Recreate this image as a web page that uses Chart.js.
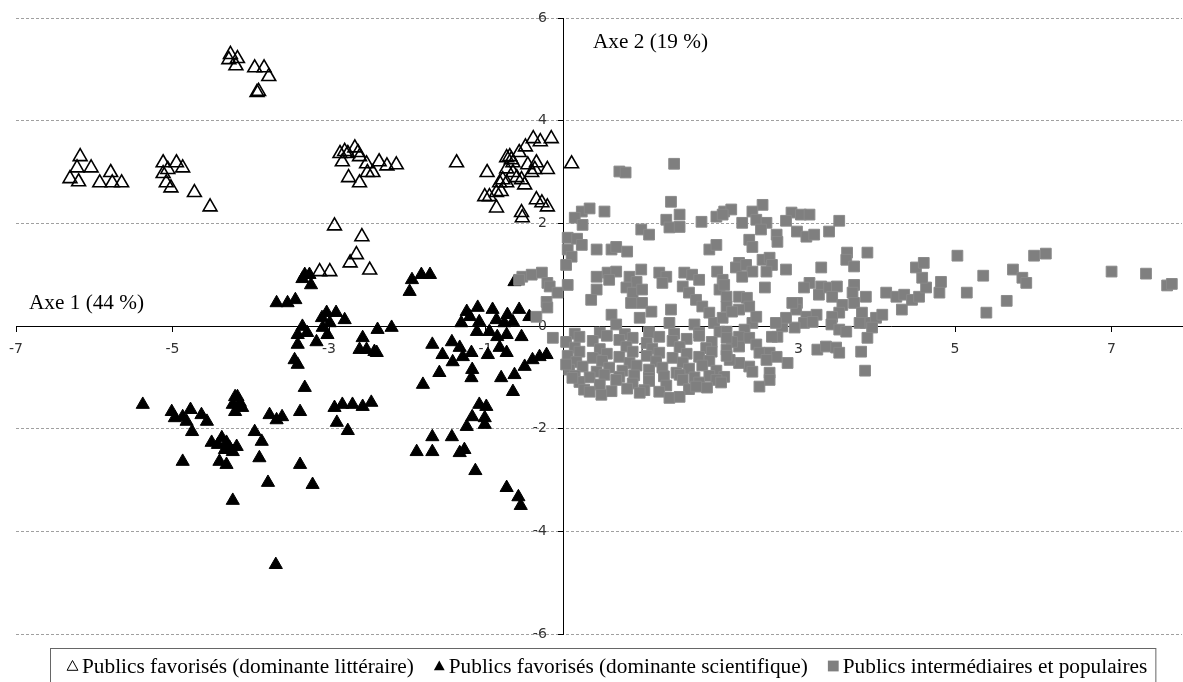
<!DOCTYPE html>
<html>
<head>
<meta charset="utf-8">
<script src="https://cdn.jsdelivr.net/npm/chart.js@4.4.0/dist/chart.umd.min.js"></script>
<style>
  html, body { margin: 0; padding: 0; background: #ffffff; overflow: hidden; }
  #wrap { width: 1183px; height: 682px; position: relative; }
</style>
</head>
<body>
<div id="wrap"><canvas id="c"></canvas></div>
<script>
// ---- data (axis units) ----
const xTicks = [-7, -5, -3, -1, 1, 3, 5, 7];
const yTicks = [-6, -4, -2, 0, 2, 4, 6];
const seriesNames = [
  'Publics favorisés (dominante littéraire)',
  'Publics favorisés (dominante scientifique)',
  'Publics intermédiaires et populaires'
];
const axisTitles = ['Axe 1 (44 %)', 'Axe 2 (19 %)'];

const litteraire = [
  [-4.26,5.29],[-4.17,5.21],[-4.19,5.07],[-4.28,5.19],[-3.95,5.03],[-3.83,5.03],[-3.77,4.86],[-3.92,4.55],[-3.90,4.57],
  [-6.18,3.30],[-6.22,3.08],[-6.04,3.08],[-6.31,2.87],[-6.20,2.81],[-5.93,2.79],[-5.79,2.99],[-5.77,2.79],[-5.65,2.79],
  [-5.12,3.18],[-4.95,3.18],[-4.87,3.08],[-5.06,3.05],[-5.12,2.97],[-5.08,2.79],[-5.02,2.69],[-4.72,2.60],[-4.52,2.32],
  [-2.86,3.36],[-2.80,3.40],[-2.76,3.36],[-2.67,3.47],[-2.63,3.38],[-2.61,3.30],[-2.83,3.20],[-2.52,3.16],[-2.51,2.99],
  [-2.44,2.99],[-2.36,3.20],[-2.26,3.12],[-2.14,3.14],[-2.75,2.89],[-2.61,2.79],
  [-2.93,1.95],[-2.58,1.74],[-2.65,1.39],[-2.73,1.23],[-2.48,1.09],[-3.12,1.06],[-2.99,1.06],
  [-1.37,3.18],[-0.98,2.99],[-0.73,3.28],[-0.69,3.30],[-0.67,3.24],[-0.65,3.18],[-0.57,3.38],[-0.49,3.49],[-0.39,3.65],
  [-0.30,3.59],[-0.16,3.65],[-0.46,3.14],[-0.35,3.18],[-0.37,3.05],[-0.21,3.05],[-0.73,3.06],[-0.65,2.99],[-0.60,2.89],
  [-0.54,2.85],[-0.50,2.75],[-0.41,2.99],[-0.78,2.85],[-0.82,2.79],[-0.73,2.79],[-1.01,2.52],[-0.95,2.52],[-0.86,2.60],
  [-0.80,2.62],[-0.86,2.30],[-0.35,2.46],[-0.28,2.40],[-0.21,2.32],[-0.54,2.21],[-0.53,2.11],[0.10,3.16]
];

const scientifique = [
  [-5.38,-1.53],[-5.01,-1.67],[-4.97,-1.79],[-4.87,-1.77],[-4.77,-1.63],[-4.82,-1.86],[-4.63,-1.73],[-4.56,-1.86],[-4.75,-2.06],
  [-4.20,-1.38],[-4.17,-1.38],[-4.23,-1.53],[-4.14,-1.49],[-4.20,-1.67],[-4.11,-1.59],[-3.76,-1.73],[-3.67,-1.83],[-3.60,-1.77],
  [-3.95,-2.06],[-3.86,-2.25],[-4.50,-2.27],[-4.37,-2.18],[-4.31,-2.27],[-4.27,-2.37],[-4.18,-2.35],[-4.42,-2.31],[-4.33,-2.41],
  [-4.23,-2.45],[-4.40,-2.64],[-4.31,-2.70],[-4.87,-2.64],[-3.89,-2.57],[-3.37,-2.70],[-3.78,-3.05],[-3.21,-3.09],[-4.23,-3.40],
  [-3.68,-4.65],[-3.37,-1.67],[-3.31,-1.20],[-2.93,-1.59],[-2.83,-1.53],[-2.70,-1.53],[-2.57,-1.57],[-2.46,-1.49],[-2.90,-1.88],
  [-2.76,-2.04],
  [-3.67,0.45],[-3.53,0.45],[-3.43,0.51],[-3.31,1.00],[-3.25,1.00],[-3.23,0.80],[-3.34,0.92],
  [-3.03,0.26],[-2.91,0.26],[-2.80,0.12],[-3.09,0.16],[-2.99,0.06],[-3.08,-0.03],[-3.02,-0.17],[-3.34,-0.01],[-3.40,-0.17],
  [-3.28,-0.13],[-3.40,-0.36],[-3.16,-0.31],[-2.38,-0.07],[-2.20,-0.03],[-2.57,-0.23],[-2.61,-0.46],[-2.52,-0.46],[-2.42,-0.50],
  [-2.39,-0.52],[-3.44,-0.66],[-3.40,-0.75],
  [-1.94,0.90],[-1.82,1.00],[-1.71,1.00],[-1.97,0.67],[-0.63,0.86],
  [-1.24,0.28],[-1.20,0.18],[-1.10,0.36],[-0.91,0.32],[-0.72,0.22],[-0.57,0.32],[-0.44,0.18],[-1.31,0.06],[-1.08,0.08],
  [-0.86,0.12],[-0.76,0.06],[-0.65,0.08],[-1.11,-0.11],[-0.95,-0.11],[-0.85,-0.21],[-0.73,-0.17],[-0.54,-0.21],
  [-1.68,-0.36],[-1.43,-0.31],[-1.33,-0.42],[-1.55,-0.56],[-1.29,-0.60],[-1.18,-0.52],[-0.97,-0.56],[-0.82,-0.42],[-0.73,-0.52],
  [-1.42,-0.70],[-1.59,-0.91],[-1.17,-0.85],[-1.18,-1.01],[-1.80,-1.14],[-0.80,-1.01],[-0.63,-0.95],[-0.50,-0.79],[-0.40,-0.66],
  [-0.31,-0.60],[-0.22,-0.56],[-0.65,-1.28],
  [-1.08,-1.53],[-0.99,-1.57],[-1.17,-1.77],[-1.01,-1.79],[-1.01,-1.92],[-1.24,-1.96],[-1.68,-2.16],[-1.43,-2.16],
  [-1.88,-2.45],[-1.68,-2.45],[-1.33,-2.47],[-1.27,-2.41],[-1.13,-2.82],[-0.73,-3.15],[-0.58,-3.33],[-0.55,-3.50]
];

const populaires = [
  [1.41,3.16],[0.71,3.01],[0.79,2.99],[1.37,2.42],[1.48,2.17],[1.31,2.07],[1.35,1.92],[1.48,1.93],[1.76,2.03],[1.95,2.13],
  [2.05,2.23],[0.52,2.23],[0.23,2.23],[0.33,2.29],[0.14,2.11],[0.24,1.97],[0.99,1.88],[1.09,1.78],[0.05,1.72],[0.17,1.70],
  [0.23,1.58],[0.05,1.49],[0.10,1.35],[0.03,1.19],[0.42,1.49],[0.61,1.49],[0.67,1.54],[0.81,1.45],[1.86,1.49],[1.95,1.58],
  [-0.53,0.96],[-0.41,1.00],[-0.28,1.04],[-0.21,0.84],[-0.18,0.77],[0.05,0.80],[-0.08,0.65],[-0.22,0.47],[-0.21,0.36],[-0.35,0.18],
  [0.42,0.96],[0.56,1.04],[0.67,1.06],[0.58,0.90],[0.42,0.71],[0.35,0.51],[0.84,0.96],[0.99,1.10],[0.93,0.86],[0.80,0.75],
  [0.88,0.65],[1.00,0.71],[0.86,0.45],[1.00,0.45],[1.12,0.28],[0.97,0.16],[0.61,0.22],[0.67,0.03],
  [1.22,1.04],[1.31,0.96],[1.26,0.84],[1.37,0.32],[1.35,0.06],[1.54,1.04],[1.64,1.00],[1.73,0.90],[1.52,0.77],[1.60,0.65],
  [1.69,0.51],[1.77,0.38],[1.86,0.26],[1.96,1.06],[2.03,0.90],[1.99,0.71],[2.08,0.57],[1.67,0.03],[1.92,0.06],[1.99,-0.11],
  [2.14,2.27],[2.03,2.17],[2.54,2.36],[2.41,2.23],[2.46,2.07],[2.59,2.01],[2.52,1.88],[2.28,2.01],[2.37,1.68],[2.41,1.54],
  [2.72,1.78],[2.73,1.64],[2.91,2.21],[3.03,2.17],[3.14,2.17],[2.84,2.05],[2.98,1.84],[3.10,1.74],[3.20,1.78],[3.39,1.84],[3.52,2.05],
  [2.24,1.23],[2.20,1.14],[2.33,1.19],[2.41,1.06],[2.54,1.29],[2.63,1.33],[2.66,1.19],[2.59,1.06],[2.28,0.96],[2.84,1.10],
  [3.29,1.14],[3.62,1.43],[3.61,1.29],[3.71,1.16],[3.88,1.43],
  [2.05,0.80],[2.57,0.75],[2.24,0.57],[2.34,0.55],[2.37,0.38],[2.24,0.32],[2.08,0.38],[2.03,0.16],
  [3.14,0.84],[3.07,0.75],[3.29,0.77],[3.26,0.61],[3.39,0.75],[3.49,0.77],[3.43,0.57],[3.71,0.80],[3.69,0.65],[3.86,0.57],
  [3.71,0.45],[2.98,0.45],[2.97,0.32],[3.10,0.18],[3.23,0.22],[3.07,0.06],[3.18,0.08],[3.56,0.41],[3.52,0.26],[3.43,0.18],
  [3.42,0.03],[3.52,-0.07],[3.61,-0.11],[3.81,0.26],[3.86,0.06],[3.99,0.16],[4.07,0.22],[3.94,-0.03],[3.78,0.06],[3.88,-0.23],
  [4.12,0.65],[4.25,0.57],[4.35,0.61],[4.32,0.32],[4.45,0.51],[4.54,0.57],[4.63,0.75],[4.58,0.94],[4.50,1.14],[4.60,1.23],
  [4.80,0.65],[4.82,0.86],[5.03,1.37],[5.15,0.65],[5.36,0.98],[5.40,0.26],[5.66,0.49],[5.74,1.10],[5.86,0.94],[5.91,0.84],
  [6.01,1.37],[6.16,1.41],[7.00,1.06],[7.44,1.02],[7.71,0.79],[7.77,0.82],
  [2.79,-0.01],[2.73,-0.21],[2.95,-0.03],[2.92,0.45],[2.84,0.16],[2.71,0.06],[2.66,-0.21],[2.41,0.06],[2.31,-0.07],[2.24,-0.21],
  [2.37,-0.23],[2.46,-0.36],[2.24,-0.40],[2.15,-0.31],[2.08,-0.11],[2.08,-0.46],[2.50,-0.52],[2.63,-0.52],[2.72,-0.60],[2.59,-0.66],
  [2.37,-0.79],[2.41,-0.89],[2.24,-0.72],[2.12,-0.66],[2.86,-0.72],[2.63,-0.91],[2.63,-1.05],[2.50,-1.18],[3.24,-0.46],[3.35,-0.40],
  [3.48,-0.42],[3.52,-0.52],[3.80,-0.50],[3.85,-0.87],[-0.57,0.90],[2.15,0.28],[2.46,0.18],
  [0.14,-0.15],[0.46,-0.13],[0.78,-0.16],[1.09,-0.12],[1.41,-0.15],[1.73,-0.13],
  [-0.14,-0.23],[0.03,-0.31],[0.20,-0.21],[0.37,-0.29],[0.55,-0.19],[0.71,-0.27],[0.88,-0.23],[1.06,-0.33],[1.22,-0.21],
  [1.39,-0.29],[1.57,-0.25],[1.73,-0.19],[1.89,-0.31],[2.08,-0.23],
  [0.14,-0.42],[0.46,-0.45],[0.80,-0.40],[1.13,-0.44],[1.48,-0.41],[1.82,-0.43],
  [0.05,-0.58],[0.20,-0.50],[0.37,-0.62],[0.55,-0.54],[0.71,-0.60],[0.88,-0.50],[1.06,-0.58],[1.22,-0.52],[1.39,-0.62],
  [1.57,-0.54],[1.73,-0.60],[1.89,-0.50],[2.08,-0.58],
  [0.16,-0.70],[0.49,-0.68],[0.84,-0.72],[1.18,-0.69],[1.52,-0.71],[1.86,-0.68],
  [0.07,-0.85],[0.24,-0.79],[0.42,-0.89],[0.58,-0.81],[0.75,-0.87],[0.93,-0.77],[1.09,-0.85],[1.26,-0.81],[1.44,-0.91],
  [1.60,-0.83],[1.77,-0.77],[1.95,-0.87],
  [0.14,-0.97],[0.33,-1.00],[0.52,-0.95],[0.71,-0.99],[0.90,-0.96],[1.09,-1.01],[1.28,-0.98],[1.48,-0.95],[1.67,-1.00],
  [1.86,-0.97],[2.05,-0.99],
  [0.20,-1.09],[0.46,-1.14],[0.67,-1.05],[0.88,-1.12],[1.09,-1.07],[1.31,-1.16],[1.52,-1.05],[1.73,-1.10],[1.95,-1.05],
  [0.26,-1.24],[0.61,-1.27],[0.81,-1.22],[1.03,-1.25],[1.22,-1.28],[1.60,-1.23],[1.83,-1.20],
  [0.48,-1.34],[1.35,-1.40],[1.48,-1.38],[1.69,-1.18],[0.11,-1.01],[0.03,-0.75],[0.33,-1.28],[0.97,-1.30],[2.01,-1.10]
];

const toPts = arr => arr.map(p => ({x: p[0], y: p[1]}));

// ---- custom plugins: axis captions, y label offset and boxed legend ----
const captionPlugin = {
  id: 'captions',
  afterDraw(chart) {
    const ctx = chart.ctx;
    ctx.save();
    ctx.font = '21.25px "Liberation Serif", "Times New Roman", serif';
    ctx.fillStyle = '#000';
    ctx.textAlign = 'left';
    ctx.textBaseline = 'alphabetic';
    ctx.fillText(axisTitles[0], 29, 309);
    ctx.fillText(axisTitles[1], 593, 48);
    ctx.restore();
  }
};

const yLabelShift = {
  id: 'yLabelShift',
  beforeDraw(chart) {
    const s = chart.scales.y;
    const items = s.getLabelItems();
    if (!items._shifted) {
      items.forEach(it => { it.options.translation[0] -= 17; });
      items._shifted = true;
    }
  }
};

const legendPlugin = {
  id: 'boxLegend',
  afterDraw(chart) {
    const ctx = chart.ctx;
    ctx.save();
    ctx.font = '21.3px "Liberation Serif", "Times New Roman", serif';
    const startX = 67, cy = 666, markW = 11, gap = 4, itemGap = 20;
    let x = startX;
    chart.data.datasets.forEach((ds, i) => {
      const mx = x + markW / 2;
      ctx.beginPath();
      if (i === 2) {
        ctx.fillStyle = '#7f7f7f';
        ctx.fillRect(mx - 5.4, cy - 5.4, 10.8, 10.8);
      } else {
        ctx.moveTo(mx, cy - 5.5);
        ctx.lineTo(mx + 5.4, cy + 4.3);
        ctx.lineTo(mx - 5.4, cy + 4.3);
        ctx.closePath();
        if (i === 1) { ctx.fillStyle = '#000'; ctx.fill(); }
        else { ctx.strokeStyle = '#000'; ctx.lineWidth = 1; ctx.stroke(); }
      }
      x += markW + gap;
      ctx.fillStyle = '#000';
      ctx.textAlign = 'left';
      ctx.textBaseline = 'alphabetic';
      ctx.fillText(ds.label, x, 673);
      x += ctx.measureText(ds.label).width + itemGap;
    });
    const right = x - itemGap + 8;
    ctx.strokeStyle = '#666';
    ctx.lineWidth = 1;
    ctx.strokeRect(50.5, 648.5, right - 50, 60);
    ctx.restore();
  }
};

const tickFont = { family: '"DejaVu Sans", Verdana, sans-serif', size: 14 };

new Chart(document.getElementById('c'), {
  type: 'scatter',
  data: {
    datasets: [
      {
        label: seriesNames[0], data: toPts(litteraire), order: 2,
        pointStyle: 'triangle', pointRadius: 8,
        backgroundColor: 'rgba(0,0,0,0)', borderColor: '#000', borderWidth: 1.6
      },
      {
        label: seriesNames[1], data: toPts(scientifique), order: 1,
        pointStyle: 'triangle', pointRadius: 7.6,
        backgroundColor: '#000', borderColor: '#000', borderWidth: 1
      },
      {
        label: seriesNames[2], data: toPts(populaires), order: 0,
        pointStyle: 'rect', pointRadius: 7.6,
        backgroundColor: '#7f7f7f', borderColor: '#8a8a8a', borderWidth: 1
      }
    ]
  },
  options: {
    responsive: true,
    maintainAspectRatio: false,
    animation: false,
    events: [],
    layout: { autoPadding: false, padding: { left: 16, top: 18, right: 1, bottom: 48 } },
    plugins: { legend: { display: false }, tooltip: { enabled: false } },
    scales: {
      x: {
        type: 'linear', min: -7, max: 7.9,
        position: { y: 0 },
        afterBuildTicks: s => { s.ticks = xTicks.map(v => ({ value: v })); },
        afterFit: s => { s.paddingLeft = 0; s.paddingRight = 0; s.paddingTop = 0; s.paddingBottom = 0; },
        grid: { drawOnChartArea: false, drawTicks: true, tickLength: 5, tickColor: '#000' },
        border: { display: true, color: '#000', width: 1 },
        ticks: { font: tickFont, color: '#333', padding: 10, maxRotation: 0, autoSkip: false }
      },
      y: {
        type: 'linear', min: -6, max: 6,
        position: { x: 0 },
        afterBuildTicks: s => { s.ticks = yTicks.map(v => ({ value: v })); },
        afterFit: s => { s.paddingLeft = 0; s.paddingRight = 0; s.paddingTop = 0; s.paddingBottom = 0; },
        grid: {
          color: c => (c.tick && c.tick.value === 0) ? 'rgba(0,0,0,0)' : '#a0a0a0',
          lineWidth: 1, drawTicks: true, tickLength: 5, tickColor: '#000'
        },
        border: { display: true, color: '#000', width: 1, dash: [3, 2] },
        ticks: { font: tickFont, color: '#333', padding: 0, autoSkip: false }
      }
    }
  },
  plugins: [yLabelShift, captionPlugin, legendPlugin]
});
</script>
</body>
</html>
